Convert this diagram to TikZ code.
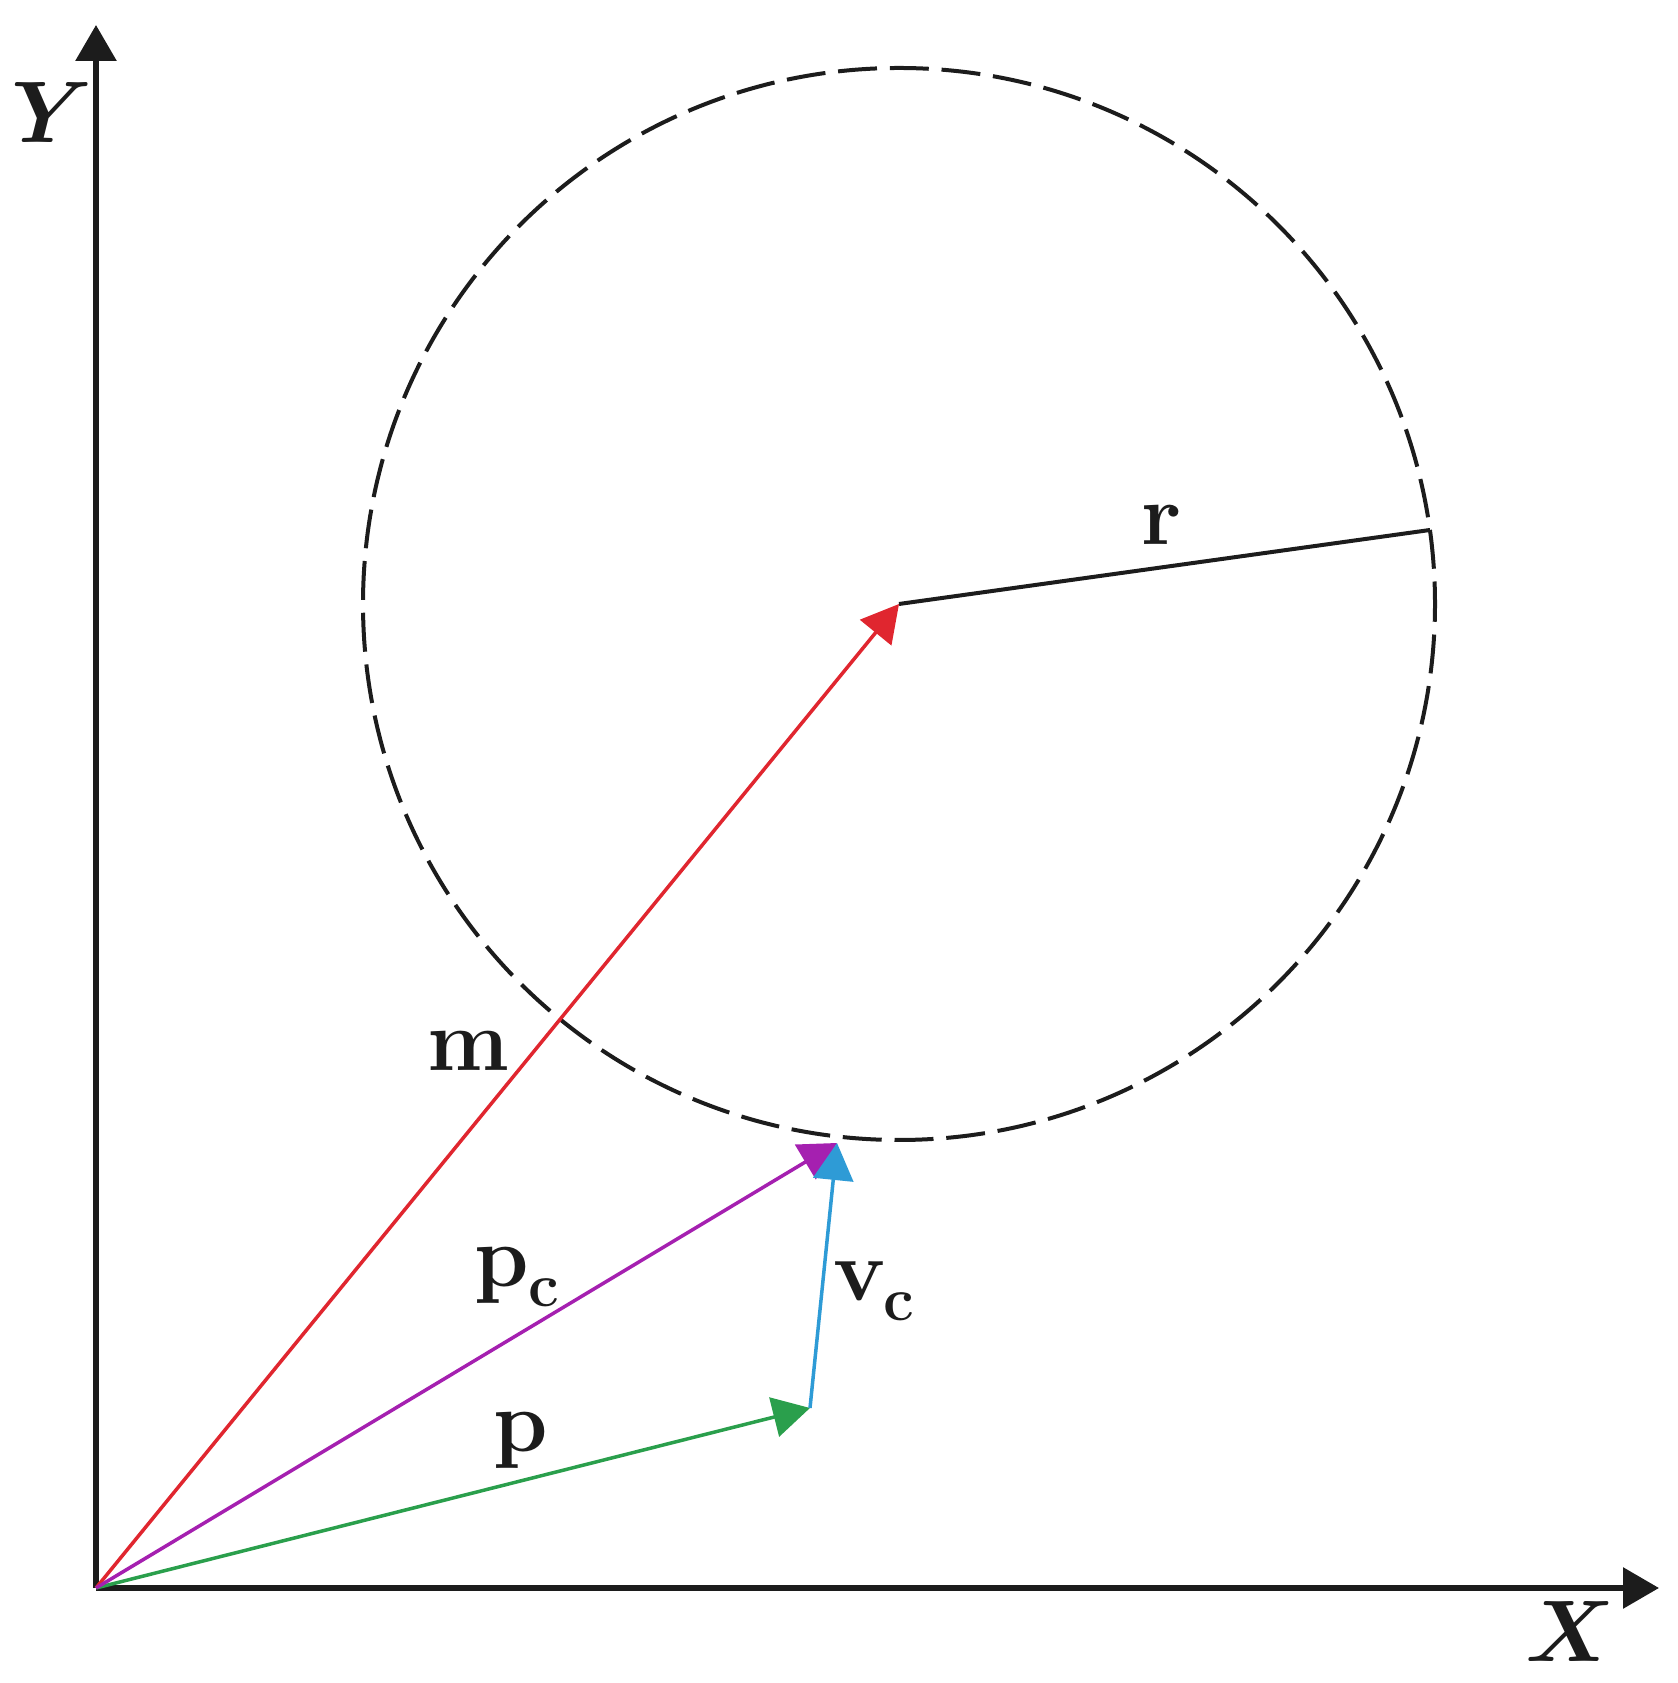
\documentclass[tikz,border=0pt]{standalone}
\usepackage{tikz}
\usetikzlibrary{arrows.meta}
\definecolor{vblack}{HTML}{1C1C1C}
\definecolor{vred}{HTML}{E0262F}
\definecolor{vgreen}{HTML}{2A9F4C}
\definecolor{vpurple}{HTML}{A520B0}
\definecolor{vblue}{HTML}{2E9BD6}
\def\lowsub#1{\raisebox{-2mm}{\fontsize{17.5}{21}\selectfont\bfseries #1}}
\tikzset{
	axis/.style={line width=0.6mm, color=vblack, -{Triangle[length=3.6mm,width=4mm]}},
	vec/.style={line width=0.35mm, -{Triangle[length=3.7mm,width=4mm]}},
	lbl/.style={text=vblack, inner sep=0pt, font=\fontsize{29}{35}\selectfont\boldmath},
}

\begin{document}
\begin{tikzpicture}
			%%%%% START %%%%%
			
			\useasboundingbox (-0.96, -0.95) rectangle (15.81, 15.88);
			
			\coordinate (O) at (0, 0);
			\coordinate (Ytip) at (0, 15.63);
			\coordinate (Xtip) at (15.63, 0);
			\coordinate (M) at (8.03, 9.84);
			\coordinate (R) at (13.34, 10.58);
			\coordinate (P) at (7.14, 1.80);
			\coordinate (Pc) at (7.41, 4.45);
			
			\draw[line width=0.4mm, color=vblack, dash pattern=on 3.9mm off 1.28mm, dash phase=1.65mm] (M) circle (5.36);
			\draw[line width=0.4mm, color=vblack] (M) -- (R);
			
			\draw[axis] (O) -- (Ytip);
			\draw[axis] (O) -- (Xtip);
			
			\draw[vec, color=vred] (O) -- (M);
			\draw[vec, color=vgreen] (O) -- (P);
			\draw[vec, color=vpurple] (O) -- (Pc);
			\draw[vec, color=vblue] (P) -- (Pc);
			
			\node[lbl] (ylabel) at (-0.44, 14.75) {$Y$};
			\node[lbl] (xlabel) at (14.74, -0.44) {$X$};
			\node[lbl] (mlabel) at (3.72, 5.37) {$\mathbf{m}$};
			\node[lbl] (rlabel) at (10.66, 10.63) {$\mathbf{r}$};
			\node[lbl] (pclabel) at (4.21, 3.11) {$\mathbf{p}$\lowsub{c}};
			\node[lbl] (vclabel) at (7.78, 2.97) {$\mathbf{v}$\kern-0.3mm\lowsub{c}};
			\node[lbl] (plabel) at (4.25, 1.47) {$\mathbf{p}$};
			
			%%%%% END %%%%%
\end{tikzpicture}
\end{document}
